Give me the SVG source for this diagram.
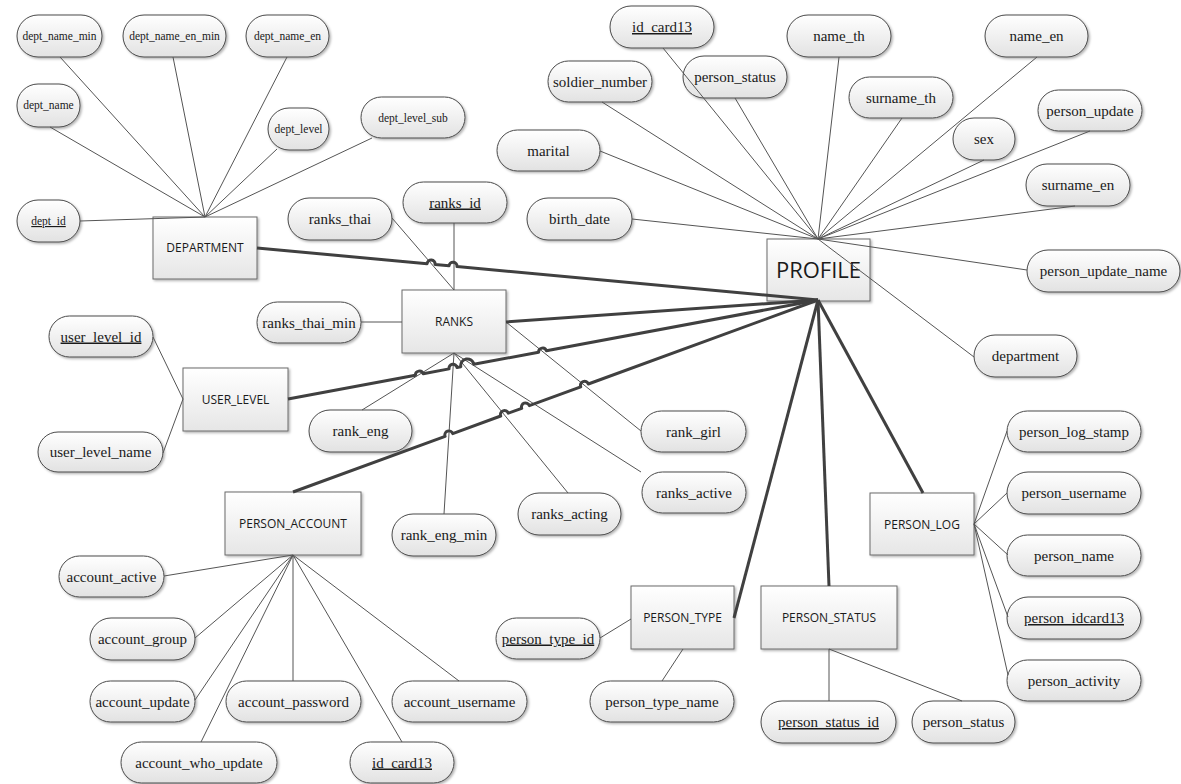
<svg xmlns="http://www.w3.org/2000/svg" width="1181" height="784" viewBox="0 0 1181 784">
  <defs>
    <linearGradient id="gEnt" x1="0" y1="0" x2="0" y2="1">
      <stop offset="0" stop-color="#ffffff"/>
      <stop offset="1" stop-color="#e6e6e6"/>
    </linearGradient>
    <linearGradient id="gAttr" x1="0" y1="0" x2="0" y2="1">
      <stop offset="0" stop-color="#ffffff"/>
      <stop offset="1" stop-color="#e2e2e2"/>
    </linearGradient>
    <filter id="shadow" x="-10%" y="-10%" width="130%" height="140%">
      <feDropShadow dx="1.5" dy="1.5" stdDeviation="1" flood-color="#000" flood-opacity="0.3"/>
    </filter>
    <style>
      .ent { fill: url(#gEnt); stroke: #6a6a6a; stroke-width: 1; filter: url(#shadow); }
      .attr { fill: url(#gAttr); stroke: #4a4a4a; stroke-width: 1; filter: url(#shadow); }
      .et { font-family: "Open Sans", "Liberation Sans", sans-serif; font-size: 12px; fill: #1a1a1a; text-anchor: middle; }
      .big { font-size: 22px; }
      .at { font-family: "Liberation Serif", serif; font-size: 15px; fill: #1a1a1a; text-anchor: middle; }
      .sm { font-size: 11.5px; }
      .key { text-decoration: underline; }
      .ln { stroke: #555; stroke-width: 1; fill: none; }
      .rel { stroke: #404040; stroke-width: 3; fill: none; stroke-linejoin: round; }
    </style>
  </defs>
  <rect width="1181" height="784" fill="#ffffff"/>

  <!-- entities -->
  <g id="department"><rect class="ent" x="153" y="217" width="104" height="62"/><text class="et" x="205" y="252">DEPARTMENT</text></g>
  <g id="ranks"><rect class="ent" x="402" y="290" width="104" height="63"/><text class="et" x="454" y="326">RANKS</text></g>
  <g id="user_level"><rect class="ent" x="183" y="368" width="105" height="63"/><text class="et" x="235.5" y="404">USER_LEVEL</text></g>
  <g id="person_account"><rect class="ent" x="225" y="492" width="136" height="63"/><text class="et" x="293" y="528">PERSON_ACCOUNT</text></g>
  <g id="profile"><rect class="ent" x="767" y="239" width="103" height="62"/><text class="et big" x="818.5" y="278">PROFILE</text></g>
  <g id="person_log"><rect class="ent" x="870" y="493" width="104" height="62"/><text class="et" x="922" y="529">PERSON_LOG</text></g>
  <g id="person_type"><rect class="ent" x="631" y="586" width="103" height="63"/><text class="et" x="682.5" y="622">PERSON_TYPE</text></g>
  <g id="person_status"><rect class="ent" x="761" y="586" width="136" height="63"/><text class="et" x="829" y="622">PERSON_STATUS</text></g>

  <!-- department attributes -->
  <g id="a-dept_name_min"><rect class="attr" x="17" y="15" width="85" height="42" rx="21"/><text class="at sm" x="59.5" y="40">dept_name_min</text></g>
  <g id="a-dept_name_en_min"><rect class="attr" x="123" y="15" width="103" height="42" rx="21"/><text class="at sm" x="174.5" y="40">dept_name_en_min</text></g>
  <g id="a-dept_name_en"><rect class="attr" x="246" y="15" width="83" height="42" rx="21"/><text class="at sm" x="287.5" y="40">dept_name_en</text></g>
  <g id="a-dept_name"><rect class="attr" x="17" y="84" width="63" height="43" rx="21"/><text class="at sm" x="48.5" y="109">dept_name</text></g>
  <g id="a-dept_level"><rect class="attr" x="268" y="108" width="61" height="42" rx="21"/><text class="at sm" x="298.5" y="133">dept_level</text></g>
  <g id="a-dept_level_sub"><rect class="attr" x="361" y="97" width="104" height="41" rx="20.5"/><text class="at sm" x="413" y="122">dept_level_sub</text></g>
  <g id="a-dept_id"><rect class="attr" x="17" y="200" width="63" height="42" rx="21"/><text class="at sm key" x="48.5" y="225">dept_id</text></g>

  <!-- ranks attributes -->
  <g id="a-ranks_thai"><rect class="attr" x="288" y="198" width="104" height="42" rx="21"/><text class="at" x="340" y="224">ranks_thai</text></g>
  <g id="a-ranks_id"><rect class="attr" x="403" y="182" width="104" height="41" rx="20.5"/><text class="at key" x="455" y="207.5">ranks_id</text></g>
  <g id="a-ranks_thai_min"><rect class="attr" x="257" y="302" width="104" height="41" rx="20.5"/><text class="at" x="309" y="327.5">ranks_thai_min</text></g>
  <g id="a-rank_eng"><rect class="attr" x="309" y="410" width="103" height="42" rx="21"/><text class="at" x="360.5" y="436">rank_eng</text></g>
  <g id="a-rank_eng_min"><rect class="attr" x="392" y="514" width="104" height="42" rx="21"/><text class="at" x="444" y="540">rank_eng_min</text></g>
  <g id="a-ranks_acting"><rect class="attr" x="518" y="493" width="103" height="42" rx="21"/><text class="at" x="569.5" y="519">ranks_acting</text></g>
  <g id="a-rank_girl"><rect class="attr" x="641" y="411" width="105" height="41" rx="20.5"/><text class="at" x="693.5" y="436.5">rank_girl</text></g>
  <g id="a-ranks_active"><rect class="attr" x="642" y="472" width="104" height="41" rx="20.5"/><text class="at" x="694" y="497.5">ranks_active</text></g>

  <!-- user level attributes -->
  <g id="a-user_level_id"><rect class="attr" x="49" y="316" width="104" height="41" rx="20.5"/><text class="at key" x="101" y="341.5">user_level_id</text></g>
  <g id="a-user_level_name"><rect class="attr" x="38" y="432" width="125" height="40" rx="20"/><text class="at" x="100.5" y="457">user_level_name</text></g>

  <!-- profile attributes -->
  <g id="a-id_card13"><rect class="attr" x="610" y="6" width="104" height="42" rx="21"/><text class="at key" x="662" y="32">id_card13</text></g>
  <g id="a-person_status"><rect class="attr" x="683" y="56" width="104" height="42" rx="21"/><text class="at" x="735" y="82">person_status</text></g>
  <g id="a-soldier_number"><rect class="attr" x="548" y="61" width="104" height="41" rx="20.5"/><text class="at" x="600" y="86.5">soldier_number</text></g>
  <g id="a-marital"><rect class="attr" x="497" y="130" width="103" height="41" rx="20.5"/><text class="at" x="548.5" y="155.5">marital</text></g>
  <g id="a-birth_date"><rect class="attr" x="527" y="198" width="105" height="42" rx="21"/><text class="at" x="579.5" y="224">birth_date</text></g>
  <g id="a-name_th"><rect class="attr" x="787" y="15" width="104" height="42" rx="21"/><text class="at" x="839" y="41">name_th</text></g>
  <g id="a-name_en"><rect class="attr" x="985" y="15" width="103" height="42" rx="21"/><text class="at" x="1036.5" y="41">name_en</text></g>
  <g id="a-surname_th"><rect class="attr" x="849" y="77" width="104" height="41" rx="20.5"/><text class="at" x="901" y="102.5">surname_th</text></g>
  <g id="a-sex"><rect class="attr" x="953" y="118" width="62" height="42" rx="21"/><text class="at" x="984" y="144">sex</text></g>
  <g id="a-person_update"><rect class="attr" x="1038" y="90" width="104" height="41" rx="20.5"/><text class="at" x="1090" y="115.5">person_update</text></g>
  <g id="a-surname_en"><rect class="attr" x="1026" y="164" width="104" height="42" rx="21"/><text class="at" x="1078" y="190">surname_en</text></g>
  <g id="a-person_update_name"><rect class="attr" x="1027" y="250" width="153" height="42" rx="21"/><text class="at" x="1103.5" y="276">person_update_name</text></g>
  <g id="a-department"><rect class="attr" x="974" y="335" width="103" height="42" rx="21"/><text class="at" x="1025.5" y="361">department</text></g>

  <!-- person log attributes -->
  <g id="a-person_log_stamp"><rect class="attr" x="1007" y="411" width="134" height="41" rx="20.5"/><text class="at" x="1074" y="436.5">person_log_stamp</text></g>
  <g id="a-person_username"><rect class="attr" x="1007" y="472" width="134" height="42" rx="21"/><text class="at" x="1074" y="498">person_username</text></g>
  <g id="a-person_name"><rect class="attr" x="1007" y="535" width="134" height="41" rx="20.5"/><text class="at" x="1074" y="560.5">person_name</text></g>
  <g id="a-person_idcard13"><rect class="attr" x="1007" y="597" width="134" height="42" rx="21"/><text class="at key" x="1074" y="623">person_idcard13</text></g>
  <g id="a-person_activity"><rect class="attr" x="1007" y="660" width="134" height="41" rx="20.5"/><text class="at" x="1074" y="685.5">person_activity</text></g>

  <!-- person type / status attributes -->
  <g id="a-person_type_id"><rect class="attr" x="496" y="618" width="104" height="41" rx="20.5"/><text class="at key" x="548" y="643.5">person_type_id</text></g>
  <g id="a-person_type_name"><rect class="attr" x="590" y="681" width="144" height="41" rx="20.5"/><text class="at" x="662" y="706.5">person_type_name</text></g>
  <g id="a-person_status_id"><rect class="attr" x="761" y="701" width="135" height="42" rx="21"/><text class="at key" x="828.5" y="727">person_status_id</text></g>
  <g id="a-person_status_2"><rect class="attr" x="912" y="701" width="103" height="42" rx="21"/><text class="at" x="963.5" y="727">person_status</text></g>

  <!-- person account attributes -->
  <g id="a-account_active"><rect class="attr" x="59" y="556" width="105" height="41" rx="20.5"/><text class="at" x="111.5" y="581.5">account_active</text></g>
  <g id="a-account_group"><rect class="attr" x="90" y="618" width="105" height="42" rx="21"/><text class="at" x="142.5" y="644">account_group</text></g>
  <g id="a-account_update"><rect class="attr" x="90" y="681" width="105" height="41" rx="20.5"/><text class="at" x="142.5" y="706.5">account_update</text></g>
  <g id="a-account_password"><rect class="attr" x="226" y="681" width="135" height="41" rx="20.5"/><text class="at" x="293.5" y="706.5">account_password</text></g>
  <g id="a-account_username"><rect class="attr" x="392" y="681" width="135" height="41" rx="20.5"/><text class="at" x="459.5" y="706.5">account_username</text></g>
  <g id="a-account_who_update"><rect class="attr" x="121" y="742" width="156" height="41" rx="20.5"/><text class="at" x="199" y="767.5">account_who_update</text></g>
  <g id="a-id_card13_2"><rect class="attr" x="350" y="742" width="104" height="41" rx="20.5"/><text class="at key" x="402" y="767.5">id_card13</text></g>

  <!-- connectors -->
  <g id="connectors">
    <!-- department attributes -->
    <path class="ln" d="M60,57 L205,217 M173,57 L205,217 M287,57 L205,217 M50,127 L205,217 M277,149 L205,217 M372,138 L205,217 M80,221 L205,217"/>
    <!-- ranks attributes -->
    <path class="ln" d="M392,218 L454,290 M454,223 L454,290 M361,322 L402,322 M362,410 L454,353 M444,514 L454,353 M568,493 L454,353 M641,472 L454,353 M506,322 L641,431"/>
    <!-- user level attributes -->
    <path class="ln" d="M153,337 L183,399 M163,453 L183,399"/>
    <!-- profile attributes -->
    <path class="ln" d="M663,48 L818,239 M735,98 L818,239 M602,102 L818,239 M600,151 L818,239 M632,219 L818,239 M839,57 L818,239 M902,118 L818,239 M1037,57 L818,239 M984,160 L818,239 M1090,131 L818,239 M1075,206 L818,239 M1027,270 L818,239 M974,357 L818,239"/>
    <!-- person log attributes -->
    <path class="ln" d="M974,524 L1007,431 M974,524 L1007,493 M974,524 L1008,555 M974,524 L1008,617 M974,524 L1008,675"/>
    <!-- person type / status attributes -->
    <path class="ln" d="M600,638 L631,619 M662,681 L683,649 M829,649 L829,701 M829,649 L962,701"/>
    <!-- person account attributes -->
    <path class="ln" d="M164,576 L293,555 M195,638 L293,555 M195,700 L293,555 M201,742 L293,555 M293,681 L293,555 M402,742 L293,555 M459,681 L293,555"/>

    <!-- relationships to PROFILE (with line hops) -->
    <path class="rel" d="M257,248 L427.1,263.7 A4,4 0 0 1 435.1,264.5 L449,265.8 A4,4 0 0 1 457,266.6 L818,300"/>
    <path class="rel" d="M506,322 L818,300"/>
    <path class="rel" d="M288,399 L415.4,375.2 A4,4 0 0 1 423.2,373.8 L449.1,368.9 A4,4 0 0 1 457,367.5 L460.8,366.7 A6.6,6.6 0 0 1 473.8,364.3 L538.6,352.2 A4,4 0 0 1 546.4,350.8 L818,300"/>
    <path class="rel" d="M293,492 L445.1,436.4 A4,4 0 0 1 452.7,433.6 L500.7,416 A4,4 0 0 1 508.3,413.2 L521.7,408.4 A4,4 0 0 1 529.3,405.6 L580.7,386.8 A4,4 0 0 1 588.3,384 L818,300"/>
    <path class="rel" d="M818,300 L734,618"/>
    <path class="rel" d="M818,300 L829,586"/>
    <path class="rel" d="M818,300 L923,493"/>
  </g>
</svg>
